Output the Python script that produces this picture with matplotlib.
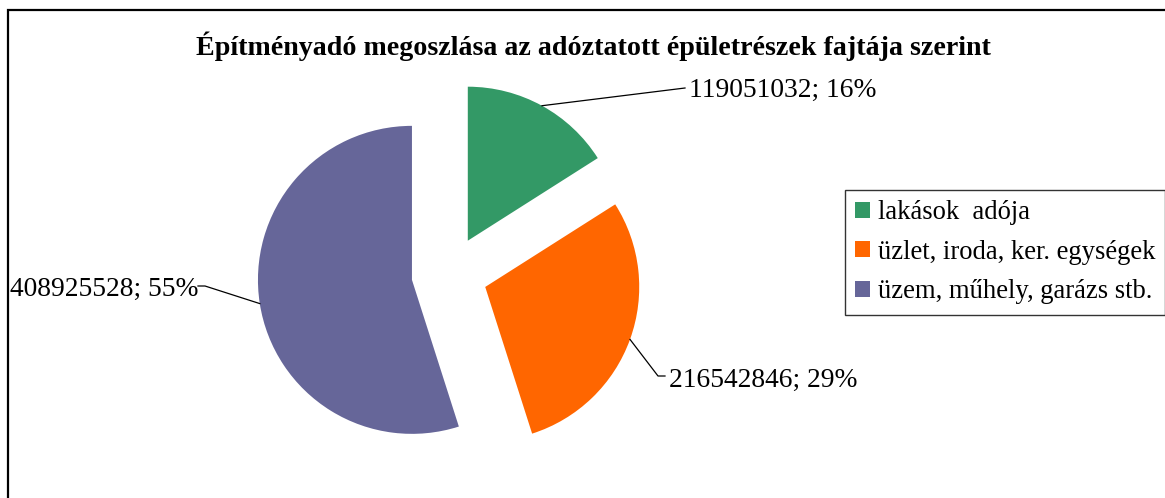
import numpy as np
import matplotlib.pyplot as plt
from matplotlib.patches import Rectangle

plt.rcParams['font.family'] = ['Liberation Serif', 'DejaVu Serif']

title = 'Építményadó megoszlása az adóztatott épületrészek fajtája szerint'
labels = ['lakások  adója', 'üzlet, iroda, ker. egységek', 'üzem, műhely, garázs stb.']
values = [119051032, 216542846, 408925528]
colors = ['#339966', '#FF6600', '#666699']

W, H = 1165, 498
fig = plt.figure(figsize=(W / 100, H / 100), dpi=100)
ax = fig.add_axes([0, 0, 1, 1])

# pie in pixel-like data units
center = (449.5, H - 274)
radius = 154
gap = 38
wedges, _ = ax.pie(values, colors=colors, radius=radius, center=center,
                   startangle=90, counterclock=False,
                   wedgeprops=dict(linewidth=0))
ax.set_xlim(0, W)
ax.set_ylim(0, H)
ax.set_aspect('equal')
ax.axis('off')

# push slices outwards
mids = []
for w in wedges:
    m = np.deg2rad((w.theta1 + w.theta2) / 2)
    w.set_center((center[0] + gap * np.cos(m), center[1] + gap * np.sin(m)))
    mids.append(m)

total = sum(values)
texts = ['%d; %d%%' % (v, round(100 * v / total)) for v in values]

# leader lines: arc midpoint -> elbow -> text
elbows = [[(685, H - 88)],
          [(658, H - 376), (665, H - 376)],
          [(205, H - 286), (198, H - 286)]]
text_pos = [(689, H - 90, 'left'), (669, H - 380, 'left'), (198, H - 289, 'right')]
for w, m, el, tp, t in zip(wedges, mids, elbows, text_pos, texts):
    cx, cy = w.center
    p0 = (cx + radius * np.cos(m), cy + radius * np.sin(m))
    pts = [p0] + el
    ax.plot([p[0] for p in pts], [p[1] for p in pts], color='black', lw=0.9)
    ax.text(tp[0], tp[1], t, ha=tp[2], va='center', fontsize=19.8)

fig.text(593.5 / W, 1 - 46 / H, title, ha='center', va='center',
         fontsize=20.2, fontweight='bold')

leg = fig.legend(wedges, labels, loc='upper left',
                 bbox_to_anchor=(845 / W, 1 - 190 / H),
                 fontsize=19.2, frameon=True, fancybox=False,
                 edgecolor='black', handlelength=0.55, handleheight=0.55,
                 handletextpad=0.3, labelspacing=0.55, borderpad=0.38,
                 borderaxespad=0)
leg.get_frame().set_linewidth(1.0)

# outer chart border (cut on right and bottom)
fig.add_artist(Rectangle((8 / W, -0.5), 1.2, 1.5 - 10 / H,
                         transform=fig.transFigure, fill=False,
                         ec='black', lw=1.6))

fig.savefig('out.png', dpi=100)
